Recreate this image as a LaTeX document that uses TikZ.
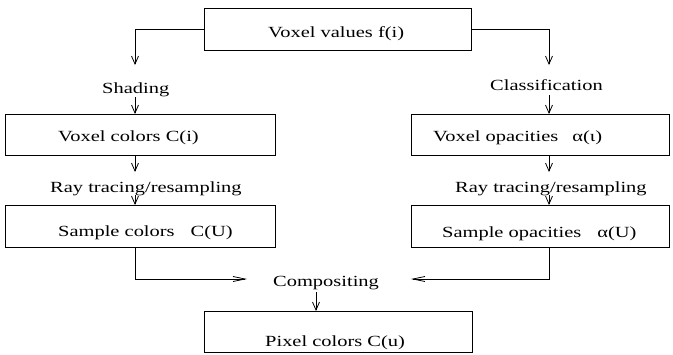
\documentclass[tikz,border=0pt]{standalone}
\usepackage{fontspec}
\setmainfont{Liberation Serif}[FakeStretch=1.32]
\usetikzlibrary{arrows.meta}
\begin{document}
\begin{tikzpicture}[x=1pt,y=-1pt,
  box/.style={draw,line width=0.8pt,inner sep=0pt,anchor=north west},
  lbl/.style={inner sep=0pt,anchor=base west,font=\fontsize{15.5}{18}\selectfont},
  arr/.style={line width=0.8pt,-{Straight Barb[length=8pt,width=7pt]}},
  harr/.style={line width=0.8pt,-{Straight Barb[length=12pt,width=5pt]}}]
\useasboundingbox (0,0) rectangle (673,354);
% boxes
\node[box,minimum width=267pt,minimum height=42pt] (b0) at (204,8) {};
\node[box,minimum width=270pt,minimum height=41pt] (b1) at (5,114) {};
\node[box,minimum width=258pt,minimum height=41pt] (b2) at (411,114) {};
\node[box,minimum width=270pt,minimum height=42pt] (b3) at (5,205) {};
\node[box,minimum width=258pt,minimum height=42pt] (b4) at (411,205) {};
\node[box,minimum width=268pt,minimum height=41pt] (b5) at (204,311) {};
% texts
\node[lbl] (t0) at (268,37) {Voxel values f(i)};
\node[lbl] (shading) at (102,93) {Shading};
\node[lbl] (classif) at (490,90) {Classification};
\node[lbl] (t1) at (58,141) {Voxel colors C(i)};
\node[lbl] (t2) at (433,141) {Voxel opacities\hspace{14pt}α(ι)};
\node[lbl] (ray1) at (50,192) {Ray tracing/resampling};
\node[lbl] (ray2) at (455,192) {Ray tracing/resampling};
\node[lbl] (t3) at (58,236) {Sample colors\hspace{16pt}C(U)};
\node[lbl] (t4) at (442,237) {Sample opacities\hspace{16pt}α(U)};
\node[lbl] (comp) at (273,286) {Compositing};
\node[lbl] (t5) at (265,346) {Pixel colors C(u)};
% coordinates
\coordinate (cl1) at (135,65);
\coordinate (cr1) at (549,65);
\coordinate (sL) at (135,97);
\coordinate (sR) at (549,95);
\coordinate (rL1) at (135,172);
\coordinate (rR1) at (549,172);
\coordinate (rL2) at (135,195);
\coordinate (rR2) at (549,195);
\coordinate (cL) at (247,279);
\coordinate (cR) at (411,279);
\coordinate (pc) at (316,292);
% connectors
\draw[arr] (b0.west) -| (cl1);
\draw[arr] (b0.east) -| (cr1);
\draw[arr] (sL) -- (sL |- b1.north);
\draw[arr] (sR) -- (sR |- b2.north);
\draw[arr] (rL1 |- b1.south) -- (rL1);
\draw[arr] (rR1 |- b2.south) -- (rR1);
\draw[arr] (rL2) -- (rL2 |- b3.north);
\draw[arr] (rR2) -- (rR2 |- b4.north);
\draw[harr] (sL |- b3.south) |- (cL);
\draw[harr] (sR |- b4.south) |- (cR);
\draw[arr] (pc) -- (pc |- b5.north);
\end{tikzpicture}
\end{document}
